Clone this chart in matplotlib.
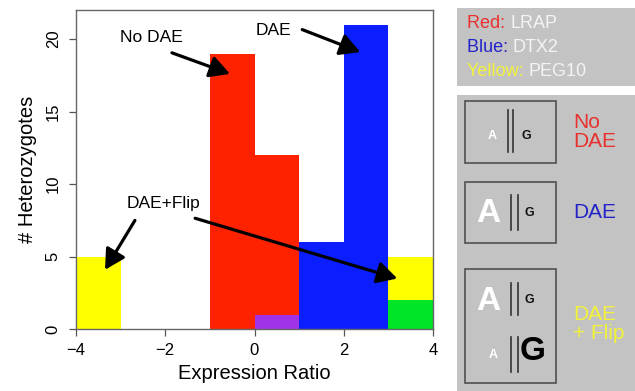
"""
Expression ratio histogram with DAE legend panel
"""

import matplotlib.pyplot as plt
from matplotlib.patches import Rectangle

plt.rcParams['font.family'] = ['Liberation Sans', 'DejaVu Sans']

#---------------------------------------------------------------------------------------------------
# Data
#---------------------------------------------------------------------------------------------------

# bin left edges and counts per gene (bin width 1)
red_edges = [-1, 0]
red_counts = [19, 12]
blue_edges = [1, 2]
blue_counts = [6, 21]
yellow_edges = [-4, 3]
yellow_counts = [5, 5]
green_edges = [3]
green_counts = [2]
purple_edges = [0]
purple_counts = [1]

xticks = [-4, -2, 0, 2, 4]
yticks = [0, 5, 10, 15, 20]

#---------------------------------------------------------------------------------------------------
# Plot
#---------------------------------------------------------------------------------------------------

fig = plt.figure(figsize=(6.35, 3.91), dpi=100)
ax = fig.add_axes([76/635, 1 - 329.3/391, (433 - 76)/635, (329.3 - 10)/391])

for edges, counts, col in [(red_edges, red_counts, '#ff2200'),
                           (blue_edges, blue_counts, '#0a1eff'),
                           (yellow_edges, yellow_counts, '#ffff00'),
                           (green_edges, green_counts, '#00e626'),
                           (purple_edges, purple_counts, '#a033e6')]:
    ax.bar(edges, counts, width=1, align='edge', color=col, linewidth=0)

ax.set_xlim(-4, 4)
ax.set_ylim(0, 22)
ax.set_xticks(xticks)
ax.set_yticks(yticks)
ax.set_yticklabels([str(v) for v in yticks], rotation=90, va='center')
ax.tick_params(axis='both', length=5, width=0.9, color='#555555', labelsize=12)
ax.tick_params(axis='x', pad=5)
ax.tick_params(axis='y', pad=6)
for s in ax.spines.values():
    s.set_color('#666666')
    s.set_linewidth(1.0)
ax.set_xlabel('Expression Ratio', size=14.5, labelpad=4)
ax.set_ylabel('# Heterozygotes', size=14.5, labelpad=6)

# annotations
arw = dict(arrowstyle='-|>,head_length=0.55,head_width=0.3', color='k', lw=2.3,
           mutation_scale=22, shrinkA=0, shrinkB=0)
ax.text(-2.3, 20.1, 'No DAE', size=12.5, ha='center', va='center')
ax.annotate('', xy=(-0.55, 17.6), xytext=(-1.85, 19.05), arrowprops=arw)
ax.text(0.42, 20.6, 'DAE', size=12.5, ha='center', va='center')
ax.annotate('', xy=(2.37, 19.1), xytext=(1.07, 20.65), arrowprops=arw)
ax.text(-2.05, 8.7, 'DAE+Flip', size=12.5, ha='center', va='center')
ax.annotate('', xy=(-3.35, 4.1), xytext=(-2.68, 7.5), arrowprops=arw)
ax.annotate('', xy=(3.2, 3.5), xytext=(-1.33, 7.65), arrowprops=arw)

#---------------------------------------------------------------------------------------------------
# Right-hand legend panel (pixel coordinates)
#---------------------------------------------------------------------------------------------------

pan = fig.add_axes([0, 0, 1, 1], zorder=-1)
pan.set_xlim(0, 635)
pan.set_ylim(391, 0)
pan.axis('off')

gray = '#c3c3c3'
pan.add_patch(Rectangle((457, 8), 178, 78, color=gray, lw=0))
pan.add_patch(Rectangle((457, 95), 178, 296, color=gray, lw=0))

for y, key, kcol, gene in [(23, 'Red:', '#e8302e', 'LRAP'),
                           (47, 'Blue:', '#2323c8', 'DTX2'),
                           (72, 'Yellow:', '#f2f23a', 'PEG10')]:
    t = pan.text(467, y, key + ' ', size=13, color=kcol, va='center')
    pan.annotate(gene, xycoords=t, xy=(1, 0.5), va='center', size=13, color='#f4f4f4')

box_ec = '#505050'
for y0, h in [(101, 62), (182, 61), (269, 114)]:
    pan.add_patch(Rectangle((465, y0), 91, h, fill=False, ec=box_ec, lw=1.2))

def pair(x1, x2, y1, y2):
    pan.plot([x1, x1], [y1, y2], color='#333333', lw=1.2)
    pan.plot([x2, x2], [y1, y2], color='#333333', lw=1.2)

# box 1: no DAE
pan.text(492, 136, 'A', size=9, color='white', ha='center', va='center', fontweight='bold')
pair(508, 513, 110, 152)
pan.text(526, 136, 'G', size=9, color='#111111', ha='center', va='center', fontweight='bold')

# box 2: DAE
pan.text(488, 213, 'A', size=24, color='white', ha='center', va='center', fontweight='bold')
pair(511, 518, 195, 230)
pan.text(529, 213, 'G', size=9, color='#111111', ha='center', va='center', fontweight='bold')

# box 3: DAE + flip
pan.text(488, 302, 'A', size=24, color='white', ha='center', va='center', fontweight='bold')
pair(511, 518, 283, 315)
pan.text(529, 300, 'G', size=9, color='#111111', ha='center', va='center', fontweight='bold')
pan.text(493, 355, 'A', size=9, color='white', ha='center', va='center', fontweight='bold')
pair(511, 518, 337, 372)
pan.text(533, 352, 'G', size=24, color='black', ha='center', va='center', fontweight='bold')

pan.text(573, 132, 'No\nDAE', size=15, color='#e8302e', va='center', linespacing=1.0)
pan.text(573, 213, 'DAE', size=15, color='#2323c8', va='center')
pan.text(573, 324, 'DAE\n+ Flip', size=15, color='#f2f23a', va='center', linespacing=1.0)

plt.savefig('out.png', dpi=100)
